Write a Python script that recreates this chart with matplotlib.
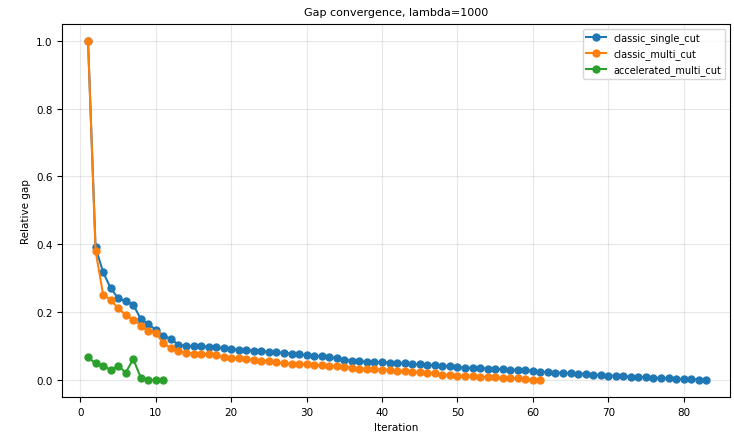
import matplotlib
matplotlib.use("Agg")
import matplotlib.pyplot as plt

# relative gap per iteration
single_cut = [1.0, 0.391, 0.318, 0.271, 0.241, 0.233, 0.222, 0.180, 0.165, 0.148,
              0.131, 0.121, 0.104, 0.101, 0.100, 0.099, 0.098, 0.096, 0.094, 0.092,
              0.090, 0.089, 0.087, 0.085, 0.084, 0.082, 0.080, 0.078, 0.076, 0.074,
              0.072, 0.070, 0.068, 0.065, 0.060, 0.057, 0.055, 0.054, 0.053, 0.052,
              0.051, 0.050, 0.049, 0.048, 0.046, 0.045, 0.044, 0.042, 0.040, 0.038,
              0.037, 0.036, 0.035, 0.034, 0.033, 0.032, 0.031, 0.030, 0.029, 0.027,
              0.025, 0.023, 0.022, 0.021, 0.020, 0.019, 0.018, 0.016, 0.015, 0.013,
              0.012, 0.011, 0.010, 0.009, 0.008, 0.007, 0.006, 0.005, 0.004, 0.003,
              0.002, 0.001, 0.000]
multi_cut = [1.0, 0.381, 0.252, 0.237, 0.211, 0.192, 0.178, 0.160, 0.145, 0.139,
             0.108, 0.094, 0.087, 0.081, 0.078, 0.077, 0.076, 0.073, 0.068, 0.065,
             0.064, 0.062, 0.060, 0.057, 0.055, 0.052, 0.050, 0.048, 0.047, 0.046,
             0.044, 0.043, 0.042, 0.041, 0.039, 0.036, 0.034, 0.033, 0.032, 0.031,
             0.030, 0.028, 0.026, 0.025, 0.024, 0.022, 0.020, 0.015, 0.014, 0.013,
             0.012, 0.011, 0.010, 0.009, 0.008, 0.007, 0.006, 0.005, 0.003, 0.001,
             0.000]
accel_multi_cut = [0.067, 0.049, 0.042, 0.030, 0.042, 0.022, 0.062, 0.007, 0.001, 0.0, 0.0]

series = {
    "classic_single_cut": single_cut,
    "classic_multi_cut": multi_cut,
    "accelerated_multi_cut": accel_multi_cut,
}

fig = plt.figure(figsize=(7.34, 4.35), dpi=100)
ax = fig.add_axes([0.085, 0.085, 0.91, 0.858])

for name, vals in series.items():
    iters = range(1, len(vals) + 1)
    ax.plot(iters, vals, marker="o", markersize=5, linewidth=1.5, label=name)

ax.set_xlim(-2.4, 86.2)
ax.set_title("Gap convergence, lambda=1000", fontsize=8)
ax.set_xlabel("Iteration", fontsize=7.5)
ax.set_ylabel("Relative gap", fontsize=7.5)
ax.tick_params(labelsize=7.5)
ax.grid(True, alpha=0.3)
ax.legend(fontsize=7)

fig.savefig("out.png", dpi=100)
